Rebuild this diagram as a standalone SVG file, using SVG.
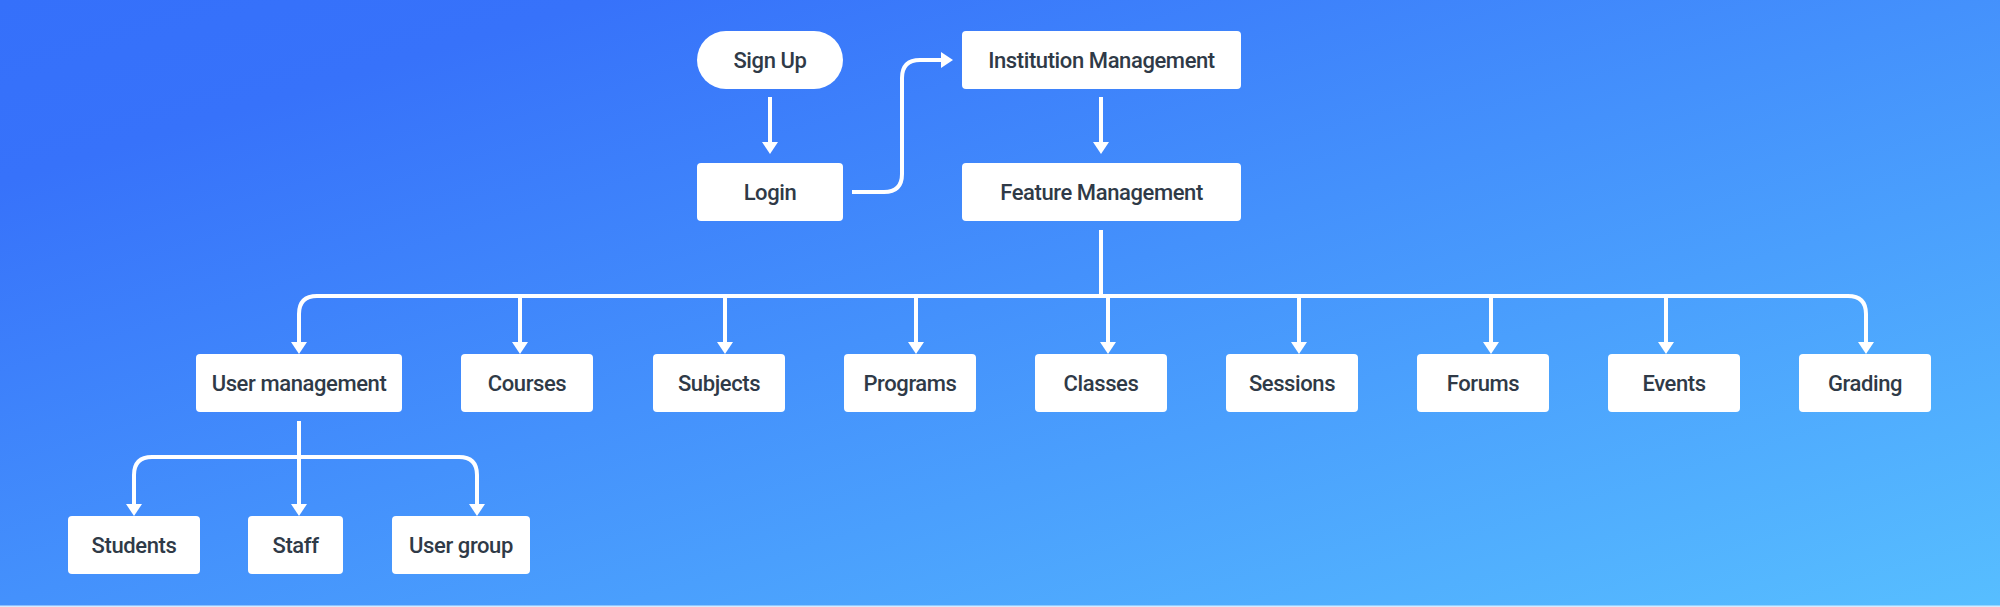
<svg xmlns="http://www.w3.org/2000/svg" width="2000" height="607" viewBox="0 0 2000 607">
  <defs>
    <linearGradient id="bg" x1="0" y1="0" x2="1" y2="1">
      <stop offset="0" stop-color="#3570fa"/>
      <stop offset="0.15" stop-color="#3772fa"/>
      <stop offset="1" stop-color="#57beff"/>
    </linearGradient>
    <marker id="ah" markerUnits="userSpaceOnUse" markerWidth="12" markerHeight="16" viewBox="0 0 12 16" refX="2" refY="8" orient="auto">
      <path d="M0,0 L12,8 L0,16 z" fill="#ffffff"/>
    </marker>
    <style>
      .box { fill: #ffffff; }
      .lbl { font-family: Roboto, "Liberation Sans", sans-serif; font-size: 22px; font-weight: 500; fill: #2f3a47; text-anchor: middle; letter-spacing: -0.4px; }
      .edge { fill: none; stroke: #ffffff; stroke-width: 4; stroke-linejoin: round; }
      .arr { marker-end: url(#ah); }
    </style>
  </defs>
  <rect x="0" y="0" width="2000" height="607" fill="url(#bg)"/>
  <rect x="0" y="605.5" width="2000" height="1.5" fill="#d6ebff"/>

  <g id="connectors">
    <path class="edge arr" d="M770 97 V144"/>
    <path class="edge arr" d="M1101 97 V144"/>
    <path class="edge arr" d="M852 192 H884 Q902 192 902 174 V78 Q902 60 920 60 H943"/>
    <path class="edge" d="M1101 230 V296"/>
    <path class="edge arr" d="M1101 296 H317 Q299 296 299 314 V344"/>
    <path class="edge arr" d="M1101 296 H1848 Q1866 296 1866 314 V344"/>
    <path class="edge arr" d="M520 296 V344"/>
    <path class="edge arr" d="M725 296 V344"/>
    <path class="edge arr" d="M916 296 V344"/>
    <path class="edge arr" d="M1108 296 V344"/>
    <path class="edge arr" d="M1299 296 V344"/>
    <path class="edge arr" d="M1491 296 V344"/>
    <path class="edge arr" d="M1666 296 V344"/>
    <path class="edge" d="M299 421 V457"/>
    <path class="edge arr" d="M299 457 H152 Q134 457 134 475 V506"/>
    <path class="edge arr" d="M299 457 H459 Q477 457 477 475 V506"/>
    <path class="edge arr" d="M299 457 V506"/>
  </g>

  <g id="signup"><rect class="box" x="697" y="31" width="146" height="58" rx="29"/><text class="lbl" x="770" y="68">Sign Up</text></g>
  <g id="login"><rect class="box" x="697" y="163" width="146" height="58" rx="4"/><text class="lbl" x="770" y="200">Login</text></g>
  <g id="institution"><rect class="box" x="962" y="31" width="279" height="58" rx="4"/><text class="lbl" x="1101.5" y="68">Institution Management</text></g>
  <g id="feature"><rect class="box" x="962" y="163" width="279" height="58" rx="4"/><text class="lbl" x="1101.5" y="200">Feature Management</text></g>

  <g id="usermgmt"><rect class="box" x="196" y="354" width="206" height="58" rx="4"/><text class="lbl" x="299" y="391">User management</text></g>
  <g id="courses"><rect class="box" x="461" y="354" width="132" height="58" rx="4"/><text class="lbl" x="527" y="391">Courses</text></g>
  <g id="subjects"><rect class="box" x="653" y="354" width="132" height="58" rx="4"/><text class="lbl" x="719" y="391">Subjects</text></g>
  <g id="programs"><rect class="box" x="844" y="354" width="132" height="58" rx="4"/><text class="lbl" x="910" y="391">Programs</text></g>
  <g id="classes"><rect class="box" x="1035" y="354" width="132" height="58" rx="4"/><text class="lbl" x="1101" y="391">Classes</text></g>
  <g id="sessions"><rect class="box" x="1226" y="354" width="132" height="58" rx="4"/><text class="lbl" x="1292" y="391">Sessions</text></g>
  <g id="forums"><rect class="box" x="1417" y="354" width="132" height="58" rx="4"/><text class="lbl" x="1483" y="391">Forums</text></g>
  <g id="events"><rect class="box" x="1608" y="354" width="132" height="58" rx="4"/><text class="lbl" x="1674" y="391">Events</text></g>
  <g id="grading"><rect class="box" x="1799" y="354" width="132" height="58" rx="4"/><text class="lbl" x="1865" y="391">Grading</text></g>

  <g id="students"><rect class="box" x="68" y="516" width="132" height="58" rx="4"/><text class="lbl" x="134" y="553">Students</text></g>
  <g id="staff"><rect class="box" x="248" y="516" width="95" height="58" rx="4"/><text class="lbl" x="295.5" y="553">Staff</text></g>
  <g id="usergroup"><rect class="box" x="392" y="516" width="138" height="58" rx="4"/><text class="lbl" x="461" y="553">User group</text></g>
</svg>
